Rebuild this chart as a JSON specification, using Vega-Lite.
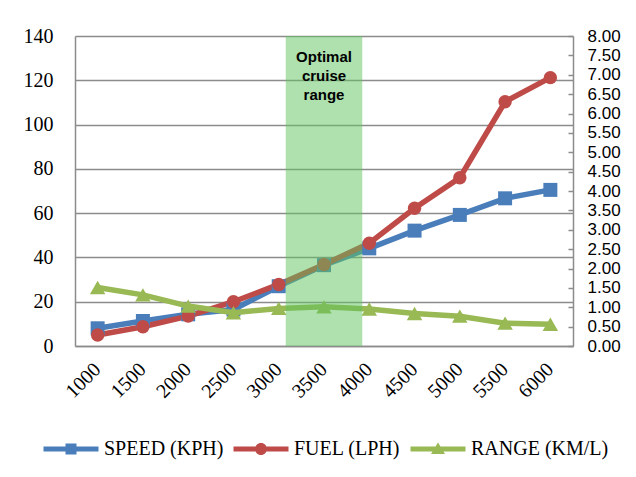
{
  "$schema": "https://vega.github.io/schema/vega-lite/v6.json",
  "width": 498,
  "height": 310,
  "autosize": "none",
  "padding": {"left": 75, "top": 36, "right": 63, "bottom": 131},
  "background": "#ffffff",
  "config": {"view": {"stroke": null}},
  "datasets": {
    "main": [
      {"rpm": "1000", "series": "SPEED (KPH)", "value": 8},
      {"rpm": "1500", "series": "SPEED (KPH)", "value": 11.3},
      {"rpm": "2000", "series": "SPEED (KPH)", "value": 14.3},
      {"rpm": "2500", "series": "SPEED (KPH)", "value": 16.5},
      {"rpm": "3000", "series": "SPEED (KPH)", "value": 27},
      {"rpm": "3500", "series": "SPEED (KPH)", "value": 36.5},
      {"rpm": "4000", "series": "SPEED (KPH)", "value": 44.1},
      {"rpm": "4500", "series": "SPEED (KPH)", "value": 52.1},
      {"rpm": "5000", "series": "SPEED (KPH)", "value": 59.2},
      {"rpm": "5500", "series": "SPEED (KPH)", "value": 66.7},
      {"rpm": "6000", "series": "SPEED (KPH)", "value": 70.5},
      {"rpm": "1000", "series": "FUEL (LPH)", "value": 5},
      {"rpm": "1500", "series": "FUEL (LPH)", "value": 8.7},
      {"rpm": "2000", "series": "FUEL (LPH)", "value": 13.5},
      {"rpm": "2500", "series": "FUEL (LPH)", "value": 20},
      {"rpm": "3000", "series": "FUEL (LPH)", "value": 27.8},
      {"rpm": "3500", "series": "FUEL (LPH)", "value": 36.8},
      {"rpm": "4000", "series": "FUEL (LPH)", "value": 46.4},
      {"rpm": "4500", "series": "FUEL (LPH)", "value": 62.2},
      {"rpm": "5000", "series": "FUEL (LPH)", "value": 76},
      {"rpm": "5500", "series": "FUEL (LPH)", "value": 110.3},
      {"rpm": "6000", "series": "FUEL (LPH)", "value": 121.2},
      {"rpm": "1000", "series": "RANGE (KM/L)", "value": 1.51},
      {"rpm": "1500", "series": "RANGE (KM/L)", "value": 1.32},
      {"rpm": "2000", "series": "RANGE (KM/L)", "value": 1.03},
      {"rpm": "2500", "series": "RANGE (KM/L)", "value": 0.86},
      {"rpm": "3000", "series": "RANGE (KM/L)", "value": 0.97},
      {"rpm": "3500", "series": "RANGE (KM/L)", "value": 1.01},
      {"rpm": "4000", "series": "RANGE (KM/L)", "value": 0.955},
      {"rpm": "4500", "series": "RANGE (KM/L)", "value": 0.84},
      {"rpm": "5000", "series": "RANGE (KM/L)", "value": 0.77},
      {"rpm": "5500", "series": "RANGE (KM/L)", "value": 0.59},
      {"rpm": "6000", "series": "RANGE (KM/L)", "value": 0.56}
    ],
    "band": [
      {"rpm": "3500", "top": 140, "label": "Optimal\ncruise\nrange"}
    ]
  },
  "data": {"name": "main"},
  "encoding": {
    "x": {
      "field": "rpm",
      "type": "ordinal",
      "sort": ["1000","1500","2000","2500","3000","3500","4000","4500","5000","5500","6000"],
      "scale": {"type": "band", "paddingInner": 0, "paddingOuter": 0},
      "axis": {
        "title": null,
        "orient": "bottom",
        "ticks": false,
        "domainColor": "#8c8c8c",
        "domainWidth": 1.5,
        "labelAngle": -45,
        "labelAlign": "right",
        "labelBaseline": "middle",
        "labelPadding": 20,
        "labelFont": "Liberation Serif",
        "labelFontSize": 20,
        "labelColor": "#000000",
        "grid": false
      }
    }
  },
  "layer": [
    {
      "mark": {"type": "point", "filled": true, "opacity": 0},
      "encoding": {
        "y": {"field": "value", "type": "quantitative", "scale": {"domain": [0, 140], "nice": false}, "axis": null},
        "color": {
          "field": "series", "type": "nominal",
          "scale": {"domain": ["SPEED (KPH)", "FUEL (LPH)", "RANGE (KM/L)"], "range": ["#4A7EBB", "#BE4B48", "#98B954"]},
          "legend": {
            "title": null,
            "orient": "none",
            "direction": "horizontal",
            "legendX": -14,
            "legendY": 403,
            "padding": 0,
            "symbolSize": 100,
            "symbolOpacity": 1,
            "symbolStrokeWidth": 0,
            "labelOffset": 23,
            "columnPadding": 9,
            "labelFont": "Liberation Serif",
            "labelFontSize": 20,
            "labelColor": "#000000"
          }
        },
        "shape": {
          "field": "series", "type": "nominal",
          "scale": {
            "domain": ["SPEED (KPH)", "FUEL (LPH)", "RANGE (KM/L)"],
            "range": [
              "M-5.5,-0.5H5.5V0.5H-5.5Z M-1.1,-1.1H1.1V1.1H-1.1Z",
              "M-5.5,-0.5H5.5V0.5H-5.5Z M-1.2,0A1.2,1.2 0 1 1 1.2,0A1.2,1.2 0 1 1 -1.2,0Z",
              "M-5.5,-0.5H5.5V0.5H-5.5Z M0,-1.3L1.4,1L-1.4,1Z"
            ]
          },
          "legend": {
            "title": null,
            "orient": "none",
            "direction": "horizontal",
            "legendX": -14,
            "legendY": 403,
            "padding": 0,
            "symbolSize": 100,
            "symbolOpacity": 1,
            "symbolStrokeWidth": 0,
            "labelOffset": 23,
            "columnPadding": 9,
            "labelFont": "Liberation Serif",
            "labelFontSize": 20,
            "labelColor": "#000000"
          }
        }
      }
    },
    {
      "transform": [{"filter": "datum.series !== 'RANGE (KM/L)'"}],
      "mark": {"type": "line", "strokeWidth": 5.5},
      "encoding": {
        "y": {
          "field": "value", "type": "quantitative",
          "scale": {"domain": [0, 140], "nice": false, "zero": true},
          "axis": {
            "orient": "left", "title": null,
            "values": [0, 20, 40, 60, 80, 100, 120, 140],
            "ticks": false,
            "domainColor": "#8c8c8c", "domainWidth": 1.5,
            "grid": true, "gridColor": "#8c8c8c", "gridWidth": 1.5,
            "labelPadding": 22,
            "labelFont": "Liberation Serif", "labelFontSize": 20, "labelColor": "#000000"
          }
        },
        "color": {"field": "series", "type": "nominal"}
      }
    },
    {
      "transform": [{"filter": "datum.series === 'SPEED (KPH)'"}],
      "mark": {"type": "point", "filled": true, "opacity": 1, "size": 196, "shape": "square"},
      "encoding": {
        "y": {"field": "value", "type": "quantitative", "scale": {"domain": [0, 140], "nice": false}, "axis": null},
        "color": {"field": "series", "type": "nominal"}
      }
    },
    {
      "transform": [{"filter": "datum.series === 'FUEL (LPH)'"}],
      "mark": {"type": "point", "filled": true, "opacity": 1, "size": 180, "shape": "circle"},
      "encoding": {
        "y": {"field": "value", "type": "quantitative", "scale": {"domain": [0, 140], "nice": false}, "axis": null},
        "color": {"field": "series", "type": "nominal"}
      }
    },
    {
      "transform": [{"filter": "datum.series === 'RANGE (KM/L)'"}],
      "mark": {"type": "line", "strokeWidth": 5.5},
      "encoding": {
        "y": {
          "field": "value", "type": "quantitative",
          "scale": {"domain": [0, 8], "nice": false},
          "axis": {
            "orient": "right", "title": null,
            "values": [0, 0.5, 1, 1.5, 2, 2.5, 3, 3.5, 4, 4.5, 5, 5.5, 6, 6.5, 7, 7.5, 8],
            "format": ".2f",
            "grid": false,
            "ticks": true, "tickSize": -5, "tickColor": "#8c8c8c", "tickWidth": 1.5,
            "domainColor": "#8c8c8c", "domainWidth": 1.5,
            "labelPadding": 19,
            "labelFont": "Liberation Sans", "labelFontSize": 17, "labelColor": "#000000"
          }
        },
        "color": {"field": "series", "type": "nominal"}
      }
    },
    {
      "transform": [{"filter": "datum.series === 'RANGE (KM/L)'"}],
      "mark": {"type": "point", "filled": true, "opacity": 1, "size": 240, "shape": "triangle-up"},
      "encoding": {
        "y": {"field": "value", "type": "quantitative", "scale": {"domain": [0, 8], "nice": false}, "axis": null},
        "color": {"field": "series", "type": "nominal"}
      }
    },
    {
      "data": {"name": "band"},
      "mark": {"type": "bar", "color": "#5EC35E", "opacity": 0.5, "width": {"band": 1.69}},
      "encoding": {
        "y": {"field": "top", "type": "quantitative", "scale": {"domain": [0, 140], "nice": false}, "axis": null}
      }
    },
    {
      "data": {"name": "band"},
      "mark": {"type": "text", "font": "Liberation Sans", "fontWeight": "bold", "fontSize": 15, "lineBreak": "\n", "lineHeight": 19, "baseline": "top", "align": "center", "dy": 14, "color": "#000000"},
      "encoding": {
        "y": {"field": "top", "type": "quantitative", "scale": {"domain": [0, 140], "nice": false}, "axis": null},
        "text": {"field": "label", "type": "nominal"}
      }
    }
  ],
  "resolve": {"scale": {"y": "independent"}}
}
